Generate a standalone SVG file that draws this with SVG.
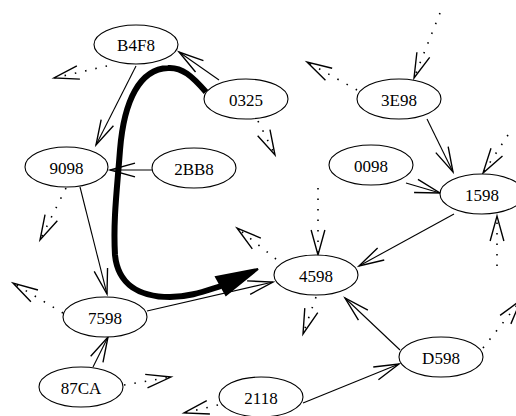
<svg xmlns="http://www.w3.org/2000/svg" width="516" height="416" viewBox="0 0 516 416">
<style>
.n ellipse{fill:#fff;stroke:#000;stroke-width:1.1}
.n text{font-family:"Liberation Serif","Times New Roman",serif;font-size:17px;text-anchor:middle;fill:#000}
.e{fill:none;stroke:#000;stroke-width:1.1;marker-end:url(#v)}
.d{stroke-dasharray:1.5 9;stroke-width:1.6}
</style>
<defs>
<marker id="v" markerUnits="userSpaceOnUse" markerWidth="30" markerHeight="20" viewBox="-22 -8 24 16" refX="0" refY="0" orient="auto" overflow="visible">
<path d="M-20,-5.5 L0,0 L-20,5.5" fill="none" stroke="#000" stroke-width="1.1"/>
</marker>
</defs>
<rect width="516" height="416" fill="#fff"/>
<g id="edges">
<path class="e" d="M219,80 L179,52"/>
<path class="e" d="M136,66 L96,145"/>
<path class="e d" d="M107,66 L54,78"/>
<path class="e" d="M152,170 L110,170"/>
<path class="e" d="M80,187 L107,294"/>
<path class="e d" d="M66,188 L40,240"/>
<path class="e d" d="M63,313 L13,283"/>
<path class="e" d="M147,311 L273,282"/>
<path class="e" d="M93,367 L108,337"/>
<path class="e d" d="M124,385 L171,377"/>
<path class="e d" d="M218,405 L184,413"/>
<path class="e" d="M303,403 L399,364"/>
<path class="e" d="M400,350 L345,298"/>
<path class="e d" d="M483,348 L521,300"/>
<path class="e" d="M454,214 L359,266"/>
<path class="e" d="M427,119 L453,172"/>
<path class="e" d="M406,183 L440,193"/>
<path class="e d" d="M508,135 L483,173"/>
<path class="e d" d="M497,266 L497,216"/>
<path class="e d" d="M440,13 L414,78"/>
<path class="e d" d="M357,90 L307,62"/>
<path class="e d" d="M258,121 L275,155"/>
<path class="e d" d="M318,188 L318,255"/>
<path class="e d" d="M276,259 L237,228"/>
<path class="e d" d="M316,297 L303,334"/>
<path d="M206,92 C192,76 182,67 168,68 C140,69 124,100 120,150 C117,190 113,220 115,255 C118,285 140,297 170,297 C190,297 205,291 221,286" fill="none" stroke="#000" stroke-width="6"/>
<polygon points="216,277 258,269 226,295" fill="#000" stroke="#000" stroke-width="2"/>
</g>
<g id="B4F8" class="n"><ellipse cx="136" cy="44.5" rx="42" ry="19.5"/><text x="136" y="51">B4F8</text></g>
<g id="n0325" class="n"><ellipse cx="246" cy="99" rx="42" ry="20"/><text x="246" y="105.5">0325</text></g>
<g id="n9098" class="n"><ellipse cx="66.5" cy="167" rx="41.5" ry="20"/><text x="66.5" y="173.5">9098</text></g>
<g id="n2BB8" class="n"><ellipse cx="194" cy="168" rx="42" ry="20"/><text x="194" y="174.5">2BB8</text></g>
<g id="n3E98" class="n"><ellipse cx="399" cy="99" rx="42" ry="20"/><text x="399" y="105.5">3E98</text></g>
<g id="n0098" class="n"><ellipse cx="371" cy="165" rx="42" ry="20"/><text x="371" y="171.5">0098</text></g>
<g id="n1598" class="n"><ellipse cx="482" cy="194" rx="42" ry="20"/><text x="482" y="200.5">1598</text></g>
<g id="n4598" class="n"><ellipse cx="316" cy="275" rx="42" ry="20"/><text x="316" y="281.5">4598</text></g>
<g id="n7598" class="n"><ellipse cx="105" cy="317" rx="42" ry="20"/><text x="105" y="323.5">7598</text></g>
<g id="n87CA" class="n"><ellipse cx="81" cy="387" rx="42" ry="20"/><text x="81" y="393.5">87CA</text></g>
<g id="n2118" class="n"><ellipse cx="261" cy="397" rx="42" ry="20"/><text x="261" y="403.5">2118</text></g>
<g id="D598" class="n"><ellipse cx="441" cy="357" rx="42" ry="20"/><text x="441" y="363.5">D598</text></g>
</svg>
